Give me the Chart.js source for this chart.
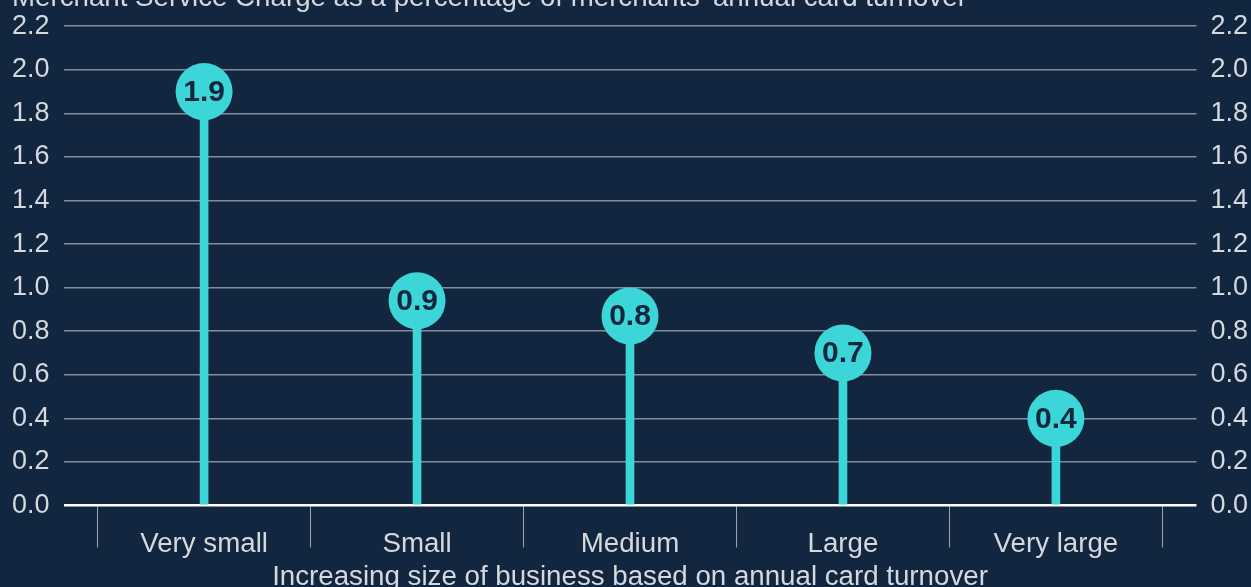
<!DOCTYPE html>
<html>
<head>
<meta charset="utf-8">
<script src="https://cdn.jsdelivr.net/npm/chart.js@4/dist/chart.umd.min.js"></script>
<style>
  html, body { margin: 0; padding: 0; background: #132640; overflow: hidden; }
  #wrap { position: absolute; left: -14px; top: -4px; width: 1279px; height: 598px; }
</style>
</head>
<body>
<div id="wrap"><canvas id="chart"></canvas></div>
<script>
// 数据
const categories = ['Very small', 'Small', 'Medium', 'Large', 'Very large'];
const chargeValues = [1.90, 0.94, 0.87, 0.70, 0.40];
const valueLabels = ['1.9', '0.9', '0.8', '0.7', '0.4'];
const yTicks = [0, 0.2, 0.4, 0.6, 0.8, 1.0, 1.2, 1.4, 1.6, 1.8, 2.0, 2.2];

const chartTitle = "Merchant Service Charge as a percentage of merchants' annual card turnover";
const xTitle = 'Increasing size of business based on annual card turnover';

// 颜色和字体
const bg = '#132640';
const teal = '#3cd6d8';
const textColor = '#d5d9de';
const gridColor = 'rgba(190,198,208,0.65)';
const fontFamily = '"Liberation Sans", Arial, sans-serif';

const points = chargeValues.map((v, i) => ({ x: i, y: v }));

// 顶部标题（被裁掉一半）
const topTitle = {
    id: 'topTitle',
    afterDraw(chart) {
        const ctx = chart.ctx;
        ctx.save();
        ctx.font = '27.7px ' + fontFamily;
        ctx.fillStyle = textColor;
        ctx.textAlign = 'left';
        ctx.textBaseline = 'alphabetic';
        ctx.fillText(chartTitle, 26, 10);
        ctx.restore();
    }
};

// 在圆点里写数值
const dotLabels = {
    id: 'dotLabels',
    afterDatasetsDraw(chart) {
        const meta = chart.getDatasetMeta(1);
        const ctx = chart.ctx;
        ctx.save();
        ctx.font = 'bold 30px ' + fontFamily;
        ctx.fillStyle = bg;
        ctx.textAlign = 'center';
        ctx.textBaseline = 'middle';
        meta.data.forEach((pt, i) => {
            ctx.fillText(valueLabels[i], pt.x, pt.y + 1);
        });
        ctx.restore();
    }
};

const yAxis = (position) => ({
    position,
    min: 0,
    max: 2.2,
    afterBuildTicks(scale) {
        scale.ticks = yTicks.map(v => ({ value: v }));
    },
    border: { display: false },
    grid: {
        display: position === 'left',
        drawTicks: false,
        color: ctx => ctx.tick && ctx.tick.value === 0 ? '#ffffff' : gridColor,
        lineWidth: ctx => ctx.tick && ctx.tick.value === 0 ? 2.5 : 1.5
    },
    ticks: {
        padding: 14,
        color: textColor,
        font: { size: 27, family: fontFamily },
        callback: v => Number(v).toFixed(1)
    }
});

new Chart(document.getElementById('chart'), {
    type: 'bar',
    data: {
        datasets: [{
            type: 'bar',
            data: points,
            backgroundColor: teal,
            barThickness: 8,
            order: 1,
            yAxisID: 'y'
        }, {
            type: 'scatter',
            data: points,
            pointRadius: 28.5,
            pointHoverRadius: 28.5,
            pointBackgroundColor: teal,
            pointBorderWidth: 0,
            clip: false,
            order: 0,
            yAxisID: 'y'
        }]
    },
    options: {
        responsive: true,
        maintainAspectRatio: false,
        animation: false,
        layout: { padding: { left: 12, right: 3, top: 6, bottom: 0 } },
        plugins: {
            legend: { display: false },
            tooltip: { enabled: false },
            title: { display: false }
        },
        scales: {
            x: {
                type: 'linear',
                offset: false,
                min: -0.66,
                max: 4.66,
                afterBuildTicks(scale) {
                    const t = [];
                    for (let i = 0; i <= categories.length; i++) {
                        t.push({ value: i - 0.5 });
                        if (i < categories.length) t.push({ value: i });
                    }
                    scale.ticks = t;
                },
                border: { display: false },
                grid: {
                    offset: false,
                    drawOnChartArea: false,
                    tickLength: 42,
                    color: ctx => ctx.tick && Number.isInteger(ctx.tick.value) ? 'rgba(0,0,0,0)' : 'rgba(190,198,208,0.8)',
                    lineWidth: 1
                },
                ticks: {
                    padding: -20,
                    autoSkip: false,
                    maxRotation: 0,
                    color: textColor,
                    font: { size: 27.7, family: fontFamily },
                    callback: v => Number.isInteger(v) ? categories[v] : ''
                },
                title: {
                    display: true,
                    text: xTitle,
                    color: textColor,
                    font: { size: 27.7, family: fontFamily },
                    padding: { top: 20, bottom: 0 }
                }
            },
            y: yAxis('left'),
            y2: yAxis('right')
        }
    },
    plugins: [dotLabels, topTitle]
});
</script>
</body>
</html>
